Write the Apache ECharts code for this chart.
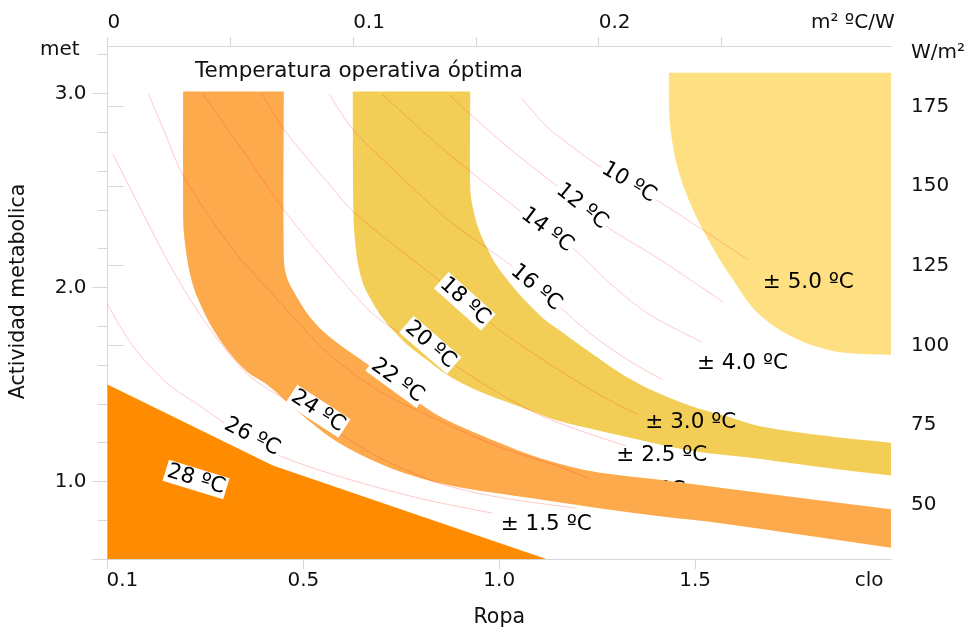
<!DOCTYPE html>
<html><head><meta charset="utf-8">
<script src="https://cdn.jsdelivr.net/npm/echarts@6/dist/echarts.min.js"></script>
<style>html,body{margin:0;padding:0;background:#fff}#c{width:968px;height:633px}</style>
</head><body><div id="c"></div>
<script>
// ---------------- data ----------------
// bottom axis: clothing insulation (clo)
const cloTicks = [0, 0.5, 1.0, 1.5];
const cloLabels = ['0.1', '0.5', '1.0', '1.5', 'clo'];
const cloLabelAt = [0.038, 0.5, 1.0, 1.5, 1.944];
// top axis: m² ºC/W
const rTicks = [0, 0.05, 0.1, 0.15, 0.2, 0.25];
const rLabels = ['0', '0.1', '0.2', 'm² ºC/W'];
const rLabelAt = [0, 0.1, 0.2, 0.2864];
// left axis: met
const metMajor = [0.6, 1.0, 2.0, 3.0];
const metMinor = [0.8, 1.2, 1.4, 1.6, 1.8, 2.2, 2.4, 2.6, 2.8, 3.2];
const metLabels = ['1.0', '2.0', '3.0', 'met'];
const metLabelAt = [1.0, 2.0, 3.0, 3.224];
// right axis: W/m²
const wTicks = [50, 75, 100, 125, 150, 175];
const wLabels = ['50', '75', '100', '125', '150', '175', 'W/m²'];
const wLabelAt = [50, 75, 100, 125, 150, 175, 191.8];

// regions [clo, met]
const darkOrangeZone = [[0, 0.6], [0, 1.5], [0.422, 1.082], [1.12, 0.6]];
const orangeOuter = [[0.193,3.01],[0.193,2.357],[0.196,2.255],[0.204,2.138],[0.214,2.041],[0.229,1.949],[0.262,1.811],[0.305,1.679],[0.356,1.566],[0.407,1.5],[0.491,1.352],[0.575,1.219],[0.662,1.122],[0.746,1.051],[0.83,1.0],[0.916,0.964],[1.084,0.913],[1.254,0.862],[1.425,0.816],[1.56,0.786],[2.0,0.658]];
const orangeInner = [[0.45,3.01],[0.45,2.153],[0.458,2.051],[0.481,1.959],[0.517,1.847],[0.567,1.745],[0.662,1.607],[0.746,1.48],[0.83,1.357],[0.916,1.27],[1.0,1.199],[1.084,1.133],[1.17,1.082],[1.254,1.046],[1.425,1.005],[1.56,0.969],[2.0,0.857]];
const yellowOuter = [[0.626,3.01],[0.628,2.357],[0.636,2.163],[0.644,2.077],[0.654,2.01],[0.669,1.949],[0.695,1.862],[0.728,1.781],[0.771,1.694],[0.814,1.628],[0.855,1.566],[0.906,1.505],[0.967,1.449],[1.076,1.367],[1.153,1.311],[1.247,1.265],[1.323,1.23],[1.491,1.158],[1.662,1.117],[1.832,1.071],[2.0,1.031]];
const yellowInner = [[0.926,3.01],[0.926,2.51],[0.934,2.398],[0.949,2.291],[0.969,2.204],[0.992,2.117],[1.043,1.985],[1.109,1.847],[1.153,1.781],[1.237,1.658],[1.323,1.541],[1.407,1.454],[1.491,1.388],[1.578,1.337],[1.662,1.286],[1.832,1.235],[2.0,1.199]];
const lightYellowEdge = [[1.433,3.107],[1.433,2.969],[1.438,2.801],[1.458,2.597],[1.501,2.372],[1.56,2.153],[1.598,2.036],[1.636,1.923],[1.674,1.842],[1.725,1.77],[1.796,1.704],[1.883,1.663],[2.0,1.653]];
const lightYellowCorner = [[2.0, 3.107]];

// isotherm lines [clo, met]
const line10 = [[1.056,2.98],[1.12,2.832],[1.204,2.699],[1.254,2.628],[1.331,2.536],[1.407,2.444],[1.501,2.321],[1.636,2.143]];
const line12 = [[0.873,2.99],[1.018,2.73],[1.145,2.526],[1.211,2.418],[1.28,2.306],[1.415,2.138],[1.573,1.923]];
const line14 = [[0.702,2.995],[0.847,2.73],[0.949,2.561],[1.051,2.398],[1.122,2.296],[1.196,2.189],[1.28,2.026],[1.382,1.862],[1.517,1.719]];
const line16 = [[0.567,2.995],[0.626,2.816],[0.746,2.577],[0.873,2.342],[1.025,2.122],[1.094,2.0],[1.16,1.888],[1.237,1.755],[1.323,1.633],[1.415,1.526]];
const line18 = [[0.394,3.0],[0.45,2.816],[0.575,2.51],[0.626,2.393],[0.746,2.194],[0.847,2.036],[0.919,1.923],[1.0,1.781],[1.127,1.607],[1.254,1.449],[1.356,1.342]];
const line20 = [[0.242,3.0],[0.346,2.704],[0.453,2.393],[0.567,2.112],[0.687,1.847],[0.824,1.679],[1.0,1.454],[1.127,1.321],[1.323,1.184]];
const line22 = [[0.104,3.0],[0.148,2.791],[0.193,2.577],[0.313,2.214],[0.433,1.939],[0.567,1.653],[0.695,1.464],[0.822,1.337],[0.992,1.184],[1.16,1.071],[1.229,1.015]];
const line24 = [[0.013,2.689],[0.084,2.408],[0.16,2.112],[0.237,1.857],[0.3,1.684],[0.364,1.541],[0.453,1.423],[0.527,1.337],[0.601,1.235],[0.695,1.122],[0.847,0.99],[1.0,0.918],[1.198,0.862]];
const line26 = [[0,1.913],[0.066,1.694],[0.153,1.505],[0.237,1.388],[0.321,1.27],[0.422,1.148],[0.575,1.036],[0.796,0.913],[0.982,0.837]];

// labels
const tempLabelText = ['10 ºC','12 ºC','14 ºC','16 ºC','18 ºC','20 ºC','22 ºC','24 ºC','26 ºC','28 ºC'];
const tempLabelPos = [[1.331,2.541],[1.211,2.418],[1.122,2.296],[1.094,2.0],[0.912,1.929],[0.824,1.704],[0.74,1.52],[0.537,1.362],[0.369,1.23],[0.226,1.01]];
const zoneLabelText = ['± 1.5 ºC','± 2.5 ºC','± 3.0 ºC','± 4.0 ºC','± 5.0 ºC'];
const zoneLabelPos = [[1.12,0.776],[1.415,1.133],[1.489,1.306],[1.621,1.607],[1.789,2.026]];
const hiddenLabelText = ['± 2.0 ºC'];
const hiddenLabelPos = [[1.359,0.954]];

// ---------------- styles ----------------
const FONT = 'DejaVu Sans, Verdana, sans-serif';
const TXT = '#111';
const AX = '#d6d6d6';
const LINE_COLOR = 'rgba(255,40,40,0.25)';
const LABEL_SIZE = 21.5;
const tempRotate = [-31, -39, -37, -40, -42, -41, -36, -33, -27, -17];

function smoothSeg(pts) {
  let d = '';
  for (let i = 0; i < pts.length - 1; i++) {
    const p0 = pts[i], p1 = pts[i + 1];
    const prev = pts[i - 1] || p0, nxt = pts[i + 2] || p1;
    const len = Math.hypot(p1[0] - p0[0], p1[1] - p0[1]);
    const t0 = [p1[0] - prev[0], p1[1] - prev[1]], l0 = Math.hypot(t0[0], t0[1]) || 1;
    const t1 = [nxt[0] - p0[0], nxt[1] - p0[1]], l1 = Math.hypot(t1[0], t1[1]) || 1;
    const c1 = [p0[0] + t0[0] / l0 * len / 3, p0[1] + t0[1] / l0 * len / 3];
    const c2 = [p1[0] - t1[0] / l1 * len / 3, p1[1] - t1[1] / l1 * len / 3];
    d += ' C' + c1[0] + ',' + c1[1] + ' ' + c2[0] + ',' + c2[1] + ' ' + p1[0] + ',' + p1[1];
  }
  return d;
}
function bandSeries(edgeA, edgeB, color, smoothB) {
  return {
    type: 'custom', z: 2, silent: true, clip: true,
    data: edgeA.concat(edgeB),
    renderItem: function (params, api) {
      if (params.dataIndex !== 0) return null;
      const a = edgeA.map(p => api.coord(p));
      const b = edgeB.map(p => api.coord(p)).reverse();
      let d = 'M' + a[0][0] + ',' + a[0][1] + smoothSeg(a);
      d += ' L' + b[0][0] + ',' + b[0][1];
      if (smoothB) d += smoothSeg(b); else b.slice(1).forEach(p => { d += ' L' + p[0] + ',' + p[1]; });
      d += ' Z';
      return { type: 'path', shape: { pathData: d }, style: { fill: color } };
    }
  };
}
function polySeries(pts, color) {
  return {
    type: 'custom', z: 2, silent: true, data: pts,
    renderItem: function (params, api) {
      if (params.dataIndex !== 0) return null;
      return { type: 'polygon', shape: { points: pts.map(p => api.coord(p)) }, style: { fill: color } };
    }
  };
}
function labelSeries(pos, text, z, extra, rot) {
  return {
    type: 'scatter', z: z, silent: true, symbolSize: 1,
    itemStyle: { color: 'rgba(0,0,0,0)', opacity: 1 },
    data: pos.map((p, i) => rot ? { value: p, label: { rotate: rot[i] } } : { value: p }),
    label: Object.assign({
      show: true, position: 'inside', formatter: p => text[p.dataIndex],
      fontSize: LABEL_SIZE, color: '#000', fontFamily: FONT, opacity: 1
    }, extra)
  };
}
const isoLines = [line10, line12, line14, line16, line18, line20, line22, line24, line26];
const axisText = { fontSize: 20, color: TXT, fontFamily: FONT };
const nameText = { fontSize: 20.5, color: TXT, fontFamily: FONT };

const option = {
  animation: false,
  backgroundColor: '#fff',
  title: { text: 'Temperatura operativa óptima', left: 190, top: 55,
    textStyle: { fontSize: 21.5, fontWeight: 'normal', color: TXT, fontFamily: FONT } },
  grid: { left: 107, right: 75, top: 46, bottom: 69 },
  xAxis: [
    { type: 'value', position: 'bottom', min: 0, max: 2,
      axisLine: { show: true, lineStyle: { color: AX } },
      axisTick: { show: true, customValues: cloTicks, length: 10, lineStyle: { color: AX } },
      axisLabel: Object.assign({ customValues: cloLabelAt, margin: 12,
        formatter: v => cloLabels[cloLabelAt.indexOf(v)] }, axisText),
      splitLine: { show: false },
      name: 'Ropa', nameLocation: 'middle', nameGap: 48, nameTextStyle: nameText },
    { type: 'value', position: 'top', min: 0, max: 0.319,
      axisLine: { show: true, lineStyle: { color: AX } },
      axisTick: { show: true, customValues: rTicks, length: 9, lineStyle: { color: AX } },
      axisLabel: Object.assign({ customValues: rLabelAt, margin: 13, align: 'left',
        formatter: v => rLabels[rLabelAt.indexOf(v)] }, axisText),
      splitLine: { show: false } }
  ],
  yAxis: [
    { type: 'value', position: 'left', min: 0.6, max: 3.245,
      axisLine: { show: true, lineStyle: { color: AX } },
      axisTick: { show: true, customValues: metMajor, length: 15, lineStyle: { color: AX } },
      axisLabel: Object.assign({ customValues: metLabelAt, margin: 21,
        formatter: v => { const s = metLabels[metLabelAt.indexOf(v)]; return s === 'met' ? '{u|met}' : s; },
        rich: { u: { fontSize: 20, color: TXT, fontFamily: FONT, padding: [0, 7, 0, 0] } } }, axisText),
      splitLine: { show: false },
      name: 'Actividad metabolica', nameLocation: 'middle', nameGap: 66, nameRotate: 90,
      nameTextStyle: Object.assign({ padding: [0, 0, 0, 22] }, nameText) },
    { type: 'value', position: 'right', min: 32.9, max: 194,
      axisLine: { show: true, lineStyle: { color: AX } },
      axisTick: { show: true, customValues: wTicks, length: 16, lineStyle: { color: AX } },
      axisLabel: Object.assign({ customValues: wLabelAt, margin: 20,
        formatter: v => wLabels[wLabelAt.indexOf(v)] }, axisText),
      splitLine: { show: false } },
    { type: 'value', position: 'left', min: 0.6, max: 3.245,
      axisLine: { show: false },
      axisTick: { show: true, customValues: metMinor, length: 10, lineStyle: { color: AX } },
      axisLabel: { show: false }, splitLine: { show: false } }
  ],
  series: [
    labelSeries(hiddenLabelPos, hiddenLabelText, 1, {}),
    bandSeries(lightYellowEdge, lightYellowCorner, '#FEE083', false),
    bandSeries(yellowOuter, yellowInner, '#F2CE56', true),
    bandSeries(orangeOuter, orangeInner, '#FDAA4C', true),
    polySeries(darkOrangeZone, '#FF8C00')
  ].concat(isoLines.map(d => ({
    type: 'line', z: 3, silent: true, data: d, showSymbol: false, symbol: 'none', smooth: 0.3,
    lineStyle: { color: LINE_COLOR, width: 1 }
  }))).concat([
    labelSeries(zoneLabelPos, zoneLabelText, 4, {}),
    labelSeries(tempLabelPos, tempLabelText, 5, { backgroundColor: '#fff', padding: [0, 2], lineHeight: 22 }, tempRotate)
  ])
};
const chart = echarts.init(document.getElementById('c'), null, { renderer: 'canvas' });
chart.setOption(option);
</script></body></html>
